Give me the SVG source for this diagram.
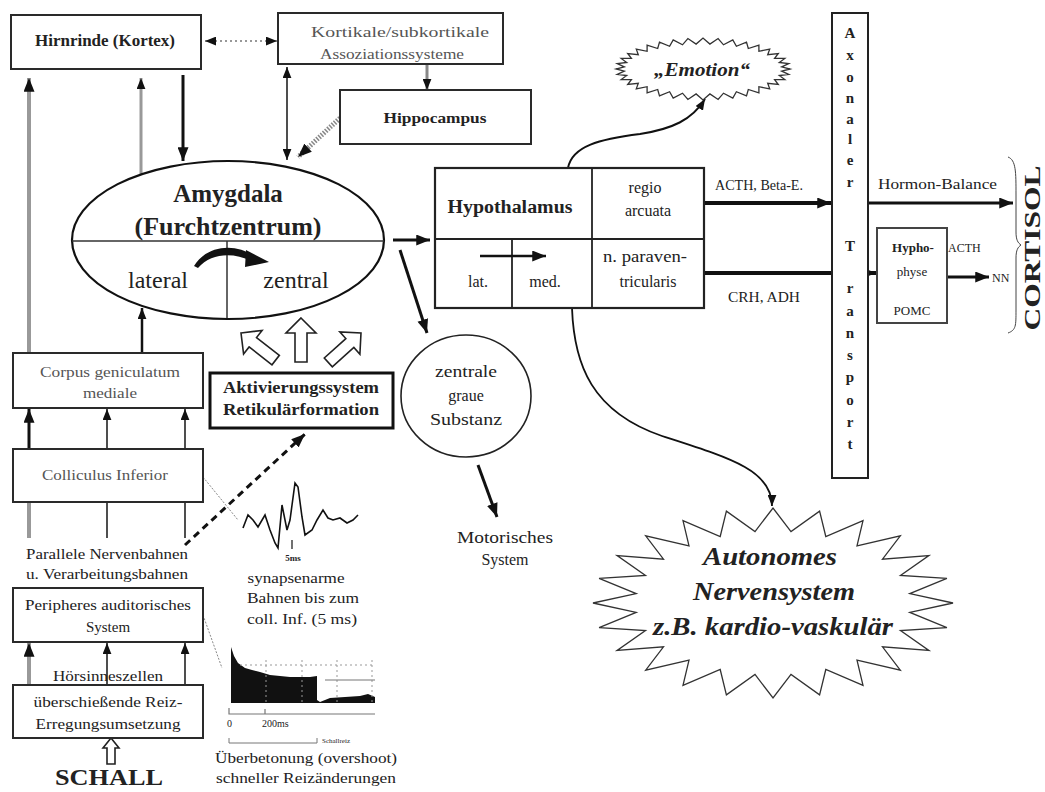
<svg xmlns="http://www.w3.org/2000/svg" width="1045" height="792" viewBox="0 0 1045 792">
<style>
  text { font-family: "Liberation Serif", "Times New Roman", serif; fill: #222; }
  .box { fill: #fff; stroke: #2a2a2a; stroke-width: 2; }
  .thin { fill: none; stroke: #333; stroke-width: 1.3; }
  .c { text-anchor: middle; }
  .b { font-weight: bold; }
  .g { fill: #555; }
  .ln { fill: none; stroke: #111; stroke-width: 2.5; }
  .ln2 { fill: none; stroke: #222; stroke-width: 1.6; }
  .grey { fill: none; stroke: #999; stroke-width: 4; }
  .hollow { fill: #fff; stroke: #222; stroke-width: 1.6; }
</style>
<defs>
  <marker id="ah" viewBox="0 0 10 8" refX="10" refY="4" markerWidth="14" markerHeight="11" markerUnits="userSpaceOnUse" orient="auto-start-reverse">
    <path d="M0,0 L10,4 L0,8 z" fill="#111"/>
  </marker>
  <marker id="ahs" viewBox="0 0 10 8" refX="10" refY="4" markerWidth="11" markerHeight="9" markerUnits="userSpaceOnUse" orient="auto-start-reverse">
    <path d="M0,0 L10,4 L0,8 z" fill="#111"/>
  </marker>
  <path id="hollowUp" d="M0,0 L15,15 L6,15 L6,44 L-6,44 L-6,15 L-15,15 Z"/>
</defs>

<!-- connectors -->
<g id="connectors">
  <line x1="205" y1="41" x2="277" y2="41" stroke="#777" stroke-width="1.5" stroke-dasharray="2 3" marker-start="url(#ahs)" marker-end="url(#ahs)"/>
  <line x1="427" y1="65" x2="427" y2="90" stroke="#888" stroke-width="3" marker-end="url(#ahs)"/>
  <line x1="287" y1="67" x2="287" y2="160" class="ln2" marker-start="url(#ahs)" marker-end="url(#ahs)"/>
  <line x1="183" y1="75" x2="183" y2="161" stroke="#111" stroke-width="3" marker-end="url(#ah)"/>
  <line x1="340" y1="118" x2="298" y2="157" stroke="#888" stroke-width="5" stroke-dasharray="1.5 1.5" marker-end="url(#ah)"/>
  <line x1="29" y1="353" x2="29" y2="78" class="grey" marker-end="url(#ah)"/>
  <line x1="141" y1="174" x2="141" y2="78" stroke="#999" stroke-width="3" marker-end="url(#ahs)"/>
  <line x1="142" y1="353" x2="142" y2="308" class="ln" marker-end="url(#ahs)"/>
  <line x1="393" y1="240" x2="430" y2="240" stroke="#111" stroke-width="3" marker-end="url(#ah)"/>
  <line x1="400" y1="250" x2="427" y2="333" stroke="#111" stroke-width="3" marker-end="url(#ah)"/>
  <!-- Colliculus to Corpus geniculatum -->
  <line x1="29" y1="449" x2="29" y2="409" stroke="#111" stroke-width="3" marker-end="url(#ah)"/>
  <line x1="107" y1="449" x2="107" y2="409" class="ln2" marker-end="url(#ahs)"/>
  <line x1="185" y1="449" x2="185" y2="409" class="ln2" marker-end="url(#ahs)"/>
  <!-- parallel pathways below Colliculus -->
  <line x1="29" y1="502" x2="29" y2="538" class="grey"/>
  <line x1="107" y1="502" x2="107" y2="538" class="ln2"/>
  <line x1="185" y1="502" x2="185" y2="538" class="ln2"/>
  <line x1="185" y1="545" x2="305" y2="434" stroke="#111" stroke-width="3" stroke-dasharray="7 5" marker-end="url(#ah)"/>
  <!-- receptor cells to peripheral system -->
  <line x1="29" y1="685" x2="29" y2="643" class="grey" marker-end="url(#ah)"/>
  <line x1="107" y1="685" x2="107" y2="643" class="ln2" marker-end="url(#ahs)"/>
  <line x1="185" y1="685" x2="185" y2="643" class="ln2" marker-end="url(#ahs)"/>
  <!-- thin pointers to the recordings -->
  <line x1="203" y1="477" x2="238" y2="520" stroke="#888" stroke-width="1" stroke-dasharray="2 1.5"/>
  <line x1="203" y1="615" x2="222" y2="668" stroke="#888" stroke-width="1" stroke-dasharray="2 1.5"/>
  <!-- activation arrows -->
  <use href="#hollowUp" class="hollow" transform="translate(301,318)"/>
  <use href="#hollowUp" class="hollow" transform="translate(241,333) rotate(-52)"/>
  <use href="#hollowUp" class="hollow" transform="translate(361,333) rotate(48)"/>
  <path d="M111,738 L119,748 L115,748 L115,764 L107,764 L107,748 L103,748 Z" class="hollow"/>
  <line x1="478" y1="465" x2="497" y2="517" stroke="#111" stroke-width="3" marker-end="url(#ah)"/>
  <!-- hypothalamus outputs -->
  <path d="M568,168 C572,146 600,139 640,134 C672,129 692,120 705,99" fill="none" stroke="#111" stroke-width="2" marker-end="url(#ahs)"/>
  <path d="M572,308 C574,365 592,412 662,436 C730,458 772,470 772,506" fill="none" stroke="#111" stroke-width="1.8" marker-end="url(#ahs)"/>
  <line x1="704" y1="203" x2="831" y2="203" stroke="#111" stroke-width="4" marker-end="url(#ah)"/>
  <line x1="704" y1="273" x2="876" y2="273" stroke="#111" stroke-width="4" marker-end="url(#ah)"/>
  <line x1="868" y1="203" x2="1013" y2="203" stroke="#111" stroke-width="3" marker-end="url(#ah)"/>
  <line x1="947" y1="277" x2="989" y2="277" stroke="#111" stroke-width="3" marker-end="url(#ah)"/>
</g>

<!-- cortex -->
<g id="hirnrinde">
  <rect x="11" y="15" width="190" height="54" class="box"/>
  <text x="105" y="46" class="c b" font-size="16" textLength="140" lengthAdjust="spacingAndGlyphs" fill="#333">Hirnrinde (Kortex)</text>
</g>
<g id="assoziation">
  <rect x="278" y="13" width="225" height="51" class="box" stroke="#555"/>
  <text x="400" y="37" class="c g" font-size="15" textLength="178" lengthAdjust="spacingAndGlyphs">Kortikale/subkortikale</text>
  <text x="392" y="59" class="c g" font-size="15" textLength="144" lengthAdjust="spacingAndGlyphs">Assoziationssysteme</text>
</g>
<g id="hippocampus">
  <rect x="340" y="90" width="191" height="54" class="box"/>
  <text x="435" y="123" class="c b" font-size="15" textLength="103" lengthAdjust="spacingAndGlyphs" fill="#333">Hippocampus</text>
</g>

<!-- amygdala -->
<g id="amygdala">
  <ellipse cx="228" cy="240" rx="156" ry="79" fill="#fff" stroke="#111" stroke-width="2.2"/>
  <line x1="72" y1="241" x2="384" y2="241" stroke="#333" stroke-width="1.5"/>
  <line x1="227" y1="241" x2="227" y2="318" stroke="#333" stroke-width="1.5"/>
  <text x="228" y="202" class="c b" font-size="25">Amygdala</text>
  <text x="228" y="235" class="c b" font-size="25" textLength="187" lengthAdjust="spacingAndGlyphs">(Furchtzentrum)</text>
  <text x="158" y="288" class="c" font-size="24">lateral</text>
  <text x="296" y="288" class="c" font-size="24">zentral</text>
  <path d="M194,266 C206,246 234,242 254,256 L251,261 C233,252 211,253 198,268 Z" fill="#111"/>
  <path d="M246,250 L269,262 L245,267 Z" fill="#111"/>
</g>

<!-- auditory pathway -->
<g id="corpus-geniculatum">
  <rect x="13" y="353" width="190" height="55" class="box"/>
  <text x="110" y="377" class="c g" font-size="15" textLength="140" lengthAdjust="spacingAndGlyphs">Corpus geniculatum</text>
  <text x="110" y="398" class="c g" font-size="15" textLength="54" lengthAdjust="spacingAndGlyphs">mediale</text>
</g>
<g id="aktivierungssystem">
  <rect x="210" y="373" width="183" height="55" fill="#fff" stroke="#111" stroke-width="3"/>
  <text x="301" y="393" class="c b" font-size="16" textLength="156" lengthAdjust="spacingAndGlyphs">Aktivierungssystem</text>
  <text x="301" y="415" class="c b" font-size="16" textLength="156" lengthAdjust="spacingAndGlyphs">Retikulärformation</text>
</g>
<g id="colliculus">
  <rect x="13" y="449" width="190" height="53" class="box"/>
  <text x="105" y="480" class="c g" font-size="15" textLength="126" lengthAdjust="spacingAndGlyphs">Colliculus Inferior</text>
</g>
<g id="bahnen">
  <text x="107" y="559" class="c" font-size="15" fill="#444" textLength="162" lengthAdjust="spacingAndGlyphs">Parallele Nervenbahnen</text>
  <text x="107" y="579" class="c" font-size="15" fill="#444" textLength="162" lengthAdjust="spacingAndGlyphs">u. Verarbeitungsbahnen</text>
</g>
<g id="peripheres">
  <rect x="13" y="588" width="190" height="54" class="box"/>
  <text x="108" y="610" class="c" font-size="15" fill="#444" textLength="166" lengthAdjust="spacingAndGlyphs">Peripheres auditorisches</text>
  <text x="108" y="632" class="c" font-size="15" fill="#444">System</text>
</g>
<g id="hoersinneszellen">
  <text x="108" y="681" class="c" font-size="15" fill="#444" textLength="110" lengthAdjust="spacingAndGlyphs">Hörsinneszellen</text>
</g>
<g id="reizumsetzung">
  <rect x="13" y="685" width="190" height="53" class="box"/>
  <text x="108" y="707" class="c" font-size="15" fill="#555" textLength="149" lengthAdjust="spacingAndGlyphs">überschießende Reiz-</text>
  <text x="108" y="729" class="c" font-size="15" fill="#555" textLength="145" lengthAdjust="spacingAndGlyphs">Erregungsumsetzung</text>
</g>
<g id="schall">
  <text x="109" y="785" class="c b" font-size="23" textLength="108" lengthAdjust="spacingAndGlyphs">SCHALL</text>
</g>

<!-- brainstem recording -->
<g id="potential">
  <path d="M243,528 L248,515 L253,520 L258,527 L265,515 L270,530 L275,543 L278,548 L282,505 L287,530 L290,520 L295,483 L298,487 L302,517 L305,535 L312,530 L317,520 L323,510 L328,518 L333,520 L340,518 L347,523 L353,520 L358,515" fill="none" stroke="#111" stroke-width="1.6"/>
  <line x1="292" y1="540" x2="292" y2="549" stroke="#111" stroke-width="1.2"/>
  <text x="293" y="561" class="c b" font-size="9">5ms</text>
  <text x="296" y="583" class="c" font-size="15" fill="#444" textLength="97" lengthAdjust="spacingAndGlyphs">synapsenarme</text>
  <text x="303" y="603" class="c" font-size="15" fill="#444" textLength="112" lengthAdjust="spacingAndGlyphs">Bahnen bis zum</text>
  <text x="302" y="624" class="c" font-size="15" fill="#444" textLength="110" lengthAdjust="spacingAndGlyphs">coll. Inf. (5 ms)</text>
</g>

<!-- peristimulus histogram -->
<g id="histogramm">
  <path d="M231,703 L231,647 L234,656 L238,663 L245,668 L252,670 L260,672 L270,675 L280,676 L290,677 L300,677 L310,677 L317,676 L317,700 L320,702 L330,698 L345,697 L360,696 L368,694 L375,697 L375,703 Z" fill="#111"/>
  <g stroke="#999" stroke-width="1" stroke-dasharray="2 3" fill="none">
    <line x1="240" y1="665" x2="373" y2="665"/>
    <line x1="266" y1="660" x2="266" y2="703"/>
    <line x1="302" y1="660" x2="302" y2="703"/>
    <line x1="337" y1="660" x2="337" y2="703"/>
    <line x1="372" y1="660" x2="372" y2="703"/>
  </g>
  <line x1="325" y1="680" x2="375" y2="680" stroke="#777" stroke-width="1.2"/>
  <path d="M229,708 L229,714 L375,714 M265,709 L265,714" fill="none" stroke="#777" stroke-width="1.2"/>
  <text x="227" y="727" font-size="10" fill="#444">0</text>
  <text x="262" y="727" font-size="10" fill="#444">200ms</text>
  <path d="M229,738 L229,743 L317,743 L317,738" fill="none" stroke="#777" stroke-width="1"/>
  <text x="322" y="743" font-size="7" fill="#555">Schallreiz</text>
  <text x="306" y="763" class="c" font-size="15" fill="#555" textLength="182" lengthAdjust="spacingAndGlyphs">Überbetonung (overshoot)</text>
  <text x="306" y="783" class="c" font-size="15" fill="#555" textLength="180" lengthAdjust="spacingAndGlyphs">schneller Reizänderungen</text>
</g>

<!-- central grey -->
<g id="zentrale-graue-substanz">
  <ellipse cx="466" cy="396" rx="65" ry="61" fill="#fff" stroke="#222" stroke-width="1.6"/>
  <text x="466" y="377" class="c" font-size="16" fill="#333" textLength="62" lengthAdjust="spacingAndGlyphs">zentrale</text>
  <text x="466" y="401" class="c" font-size="16" fill="#333">graue</text>
  <text x="466" y="425" class="c" font-size="16" fill="#333" textLength="72" lengthAdjust="spacingAndGlyphs">Substanz</text>
</g>
<g id="motorisches-system">
  <text x="505" y="543" class="c" font-size="16" fill="#444" textLength="96" lengthAdjust="spacingAndGlyphs">Motorisches</text>
  <text x="505" y="565" class="c" font-size="16" fill="#444">System</text>
</g>

<!-- hypothalamus -->
<g id="hypothalamus">
  <rect x="435" y="168" width="269" height="140" fill="#fff" stroke="#222" stroke-width="2.2"/>
  <line x1="435" y1="239" x2="704" y2="239" stroke="#222" stroke-width="1.8"/>
  <line x1="592" y1="168" x2="592" y2="308" stroke="#222" stroke-width="1.8"/>
  <line x1="512" y1="239" x2="512" y2="308" stroke="#222" stroke-width="1.8"/>
  <text x="510" y="213" class="c b" font-size="18" textLength="125" lengthAdjust="spacingAndGlyphs">Hypothalamus</text>
  <text x="645" y="193" class="c" font-size="16" fill="#333">regio</text>
  <text x="648" y="216" class="c" font-size="16" fill="#333">arcuata</text>
  <text x="645" y="262" class="c" font-size="16" fill="#333" textLength="84" lengthAdjust="spacingAndGlyphs">n. paraven-</text>
  <text x="648" y="287" class="c" font-size="16" fill="#333">tricularis</text>
  <text x="478" y="287" class="c" font-size="16" fill="#333">lat.</text>
  <text x="545" y="287" class="c" font-size="16" fill="#333">med.</text>
  <line x1="480" y1="256" x2="546" y2="256" stroke="#111" stroke-width="2.5" marker-end="url(#ah)"/>
</g>
<g id="hormon-labels">
  <text x="715" y="190" font-size="14" fill="#333" textLength="88" lengthAdjust="spacingAndGlyphs">ACTH, Beta-E.</text>
  <text x="728" y="302" font-size="14" fill="#333" textLength="72" lengthAdjust="spacingAndGlyphs">CRH, ADH</text>
  <text x="878" y="189" font-size="14" fill="#555" textLength="119" lengthAdjust="spacingAndGlyphs">Hormon-Balance</text>
</g>

<!-- emotion cloud -->
<g id="emotion">
  <polygon class="thin" fill="#fff" points="790,69 781.7,71.2 788.7,74.4 779.3,75.5 784.8,79.6 774.6,79.6 778.3,84.5 767.7,83.3 769.7,88.9 758.9,86.7 758.9,92.8 748.3,89.5 746.5,95.9 736.4,91.7 732.8,98.1 723.5,93.2 718.1,99.5 709.9,93.9 703,100 696.1,93.9 687.9,99.5 682.5,93.2 673.2,98.1 669.6,91.7 659.5,95.9 657.7,89.5 647.1,92.8 647.1,86.7 636.3,88.9 638.3,83.3 627.7,84.5 631.4,79.6 621.2,79.6 626.7,75.5 617.3,74.4 624.3,71.2 616,69 624.3,66.8 617.3,63.6 626.7,62.5 621.2,58.4 631.4,58.4 627.7,53.5 638.3,54.7 636.3,49.1 647.1,51.3 647.1,45.2 657.7,48.5 659.5,42.1 669.6,46.3 673.2,39.9 682.5,44.8 687.9,38.5 696.1,44.1 703,38 709.9,44.1 718.1,38.5 723.5,44.8 732.8,39.9 736.4,46.3 746.5,42.1 748.3,48.5 758.9,45.2 758.9,51.3 769.7,49.1 767.7,54.7 778.3,53.5 774.6,58.4 784.8,58.4 779.3,62.5 788.7,63.6 781.7,66.8"/>
  <text x="702" y="76" class="c b" font-size="19" font-style="italic" textLength="96" lengthAdjust="spacingAndGlyphs">„Emotion“</text>
</g>

<!-- axonal transport -->
<g id="axonaler-transport">
  <rect x="832" y="13" width="36" height="465" fill="#fff" stroke="#222" stroke-width="2"/>
  <g class="b" font-size="15" text-anchor="middle">
    <text x="850" y="38">A</text>
    <text x="850" y="60">x</text>
    <text x="850" y="82">o</text>
    <text x="850" y="103">n</text>
    <text x="850" y="124">a</text>
    <text x="850" y="144">l</text>
    <text x="850" y="165">e</text>
    <text x="850" y="187">r</text>
    <text x="850" y="251">T</text>
    <text x="850" y="293">r</text>
    <text x="850" y="316">a</text>
    <text x="850" y="338">n</text>
    <text x="850" y="360">s</text>
    <text x="850" y="382">p</text>
    <text x="850" y="405">o</text>
    <text x="850" y="427">r</text>
    <text x="850" y="449">t</text>
  </g>
</g>

<!-- pituitary -->
<g id="hypophyse">
  <rect x="877" y="228" width="70" height="95" fill="#fff" stroke="#444" stroke-width="2"/>
  <text x="913" y="252" class="c b" font-size="13" fill="#444">Hypho-</text>
  <text x="912" y="276" class="c" font-size="13" fill="#444">physe</text>
  <text x="912" y="315" class="c" font-size="13" fill="#444">POMC</text>
  <text x="948" y="252" font-size="12" fill="#444">ACTH</text>
  <text x="992" y="282" font-size="12" fill="#333">NN</text>
</g>

<!-- cortisol -->
<g id="cortisol">
  <path d="M1008,157 C1016,160 1016,172 1016,195 L1016,232 C1016,240 1018,243 1021,245 C1018,247 1016,250 1016,258 L1016,310 C1016,326 1016,330 1008,333" fill="none" stroke="#444" stroke-width="1"/>
  <text transform="translate(1040,248) rotate(-90)" class="c b" font-size="23" textLength="165" lengthAdjust="spacingAndGlyphs">CORTISOL</text>
</g>

<!-- autonomic nervous system -->
<g id="autonomes-nervensystem">
  <polygon class="thin" fill="#fff" points="953,603 909.8,612.4 946.9,627.6 900.5,630.6 928.9,650.5 882.5,646.8 900.3,670.2 857,660.1 863,685.3 825.8,669.5 819.6,694.8 791,674.4 773,698 755,674.4 726.4,694.8 720.2,669.5 683,685.3 689,660.1 645.7,670.2 663.5,646.8 617.1,650.5 645.5,630.6 599.1,627.6 636.2,612.4 593,603 636.2,593.6 599.1,578.4 645.5,575.4 617.1,555.5 663.5,559.2 645.7,535.8 689,545.9 683,520.7 720.2,536.5 726.4,511.2 755,531.6 773,508 791,531.6 819.6,511.2 825.8,536.5 863,520.7 857,545.9 900.3,535.8 882.5,559.2 928.9,555.5 900.5,575.4 946.9,578.4 909.8,593.6"/>
  <text x="770" y="565" class="c b" font-size="26" font-style="italic" textLength="134" lengthAdjust="spacingAndGlyphs">Autonomes</text>
  <text x="774" y="600" class="c b" font-size="26" font-style="italic" textLength="162" lengthAdjust="spacingAndGlyphs">Nervensystem</text>
  <text x="773" y="635" class="c b" font-size="26" font-style="italic" textLength="240" lengthAdjust="spacingAndGlyphs">z.B. kardio-vaskulär</text>
</g>
</svg>
